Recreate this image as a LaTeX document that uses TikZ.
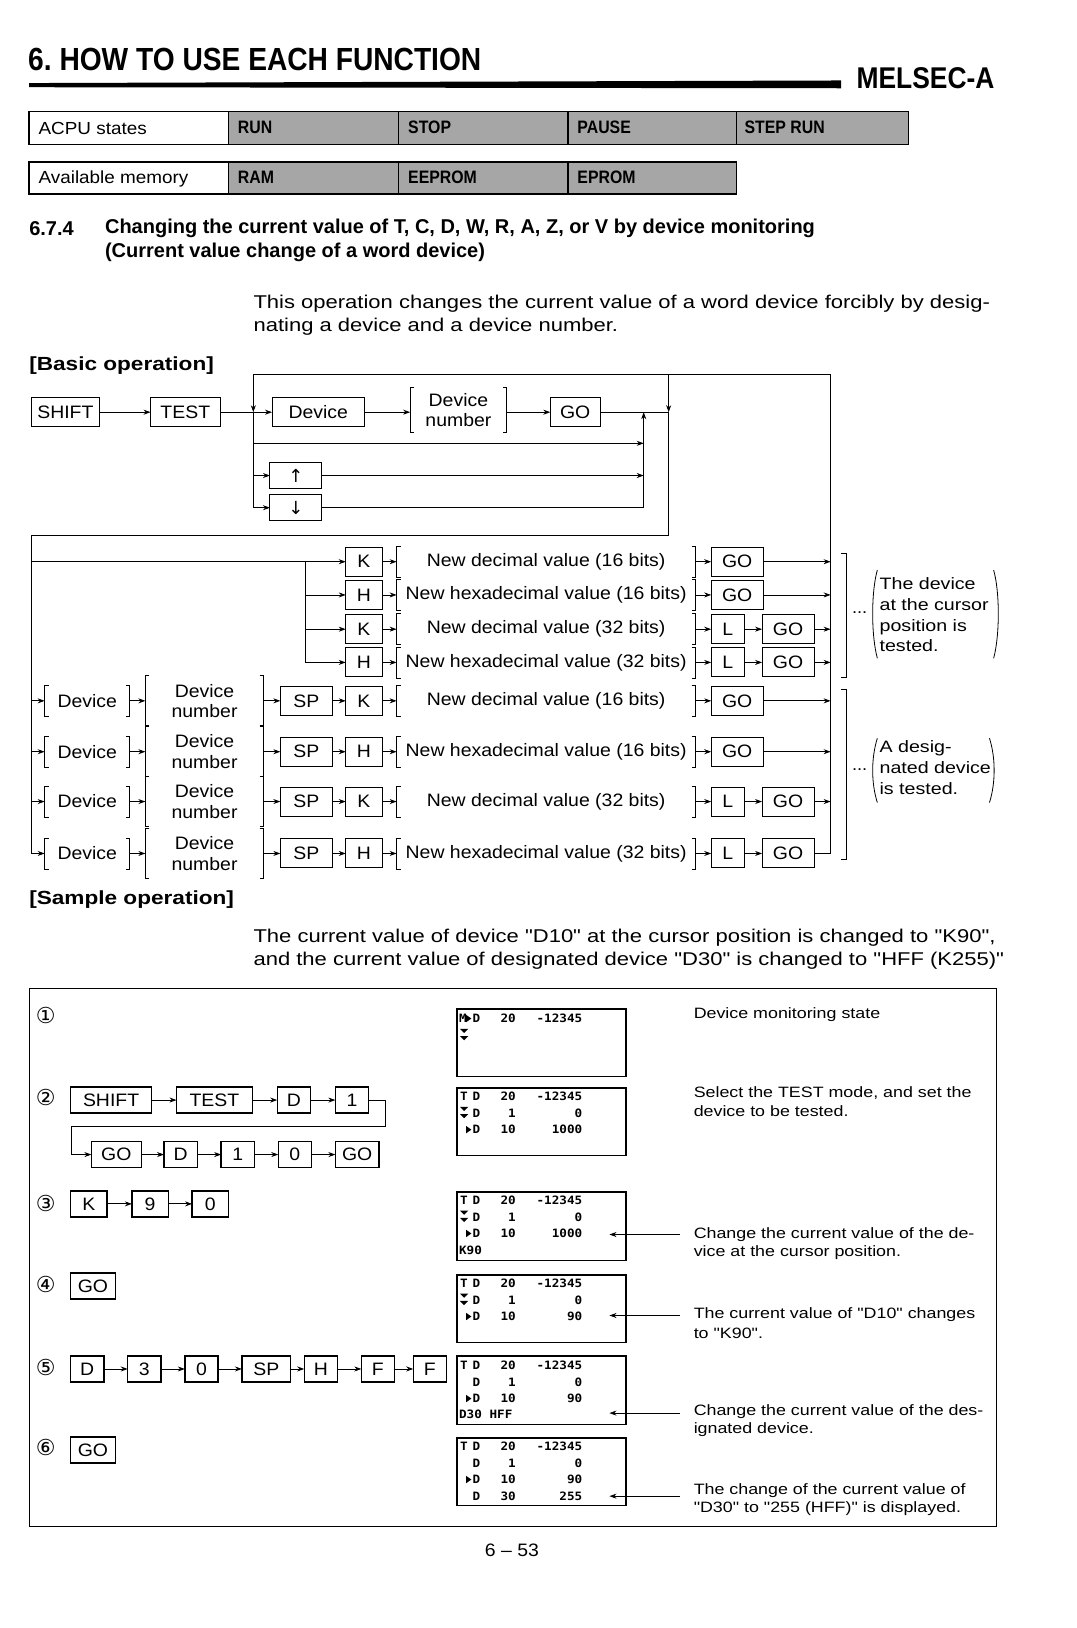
\documentclass[tikz,border=0pt]{standalone}
\usepackage{fontspec}
\setmainfont{Liberation Sans}
\newfontfamily\bodyf[FakeStretch=1.08]{Liberation Sans}
\newfontfamily\widef[FakeStretch=1.19]{Liberation Sans}
\newfontfamily\condf[FakeStretch=0.88]{Liberation Sans}
\newfontfamily\headff{Liberation Sans}
\newfontfamily\lcdf[FakeStretch=1.1]{DejaVu Sans Mono}
\newfontfamily\symf{DejaVu Sans}
\usetikzlibrary{arrows.meta}

\newcommand\kb[6][keyb]{%
  \pgfmathsetmacro\kbw{(#4-#3)*1.0386}%
  \node[minimum width=\kbw pt, minimum height=29pt, #1] (#2) at ({(#3+#4)/2},#5) {#6};}
\newcommand\bk[6][]{%
  \pgfmathsetmacro\kbw{(#4-#3)*1.0386}%
  \node[brk, minimum width=\kbw pt, minimum height=31pt, #1] (#2) at ({(#3+#4)/2},#5) {#6};
  \draw[ln] ([xshift=4pt]#2.north west) -- (#2.north west) -- (#2.south west) -- ([xshift=4pt]#2.south west);
  \draw[ln] ([xshift=-4pt]#2.north east) -- (#2.north east) -- (#2.south east) -- ([xshift=-4pt]#2.south east);}
\newcommand\lrow[5]{%
  \node[lcdt, anchor=west] (#1d) at (455,#2) {#3};
  \node[lcdt, anchor=east] (#1n) at (497,#2) {#4};
  \node[lcdt, anchor=east] (#1v) at (561,#2) {#5};}
\newcommand\ddtri[1]{%
  \fill (443,#1) -- (451,#1) -- (447,#1+4) -- cycle;
  \fill (443,#1+7) -- (451,#1+7) -- (447,#1+11) -- cycle;}
\newcommand\rtri[1]{\fill (449,#1-3.5) -- (449,#1+3.5) -- (454,#1) -- cycle;}

\begin{document}
\begin{tikzpicture}[x=1.0386pt,y=-1.0386pt,
  ln/.style={line width=0.8pt},
  arr/.style={line width=0.8pt,-{Stealth[length=7pt,width=5pt]}},
  keyb/.style={draw, line width=1pt, inner sep=0pt, outer sep=0pt, font=\bodyf\fontsize{18}{20}\selectfont},
  skey/.style={keyb, line width=1.4pt, minimum height=26pt},
  brk/.style={inner sep=0pt, outer sep=0pt, align=center, font=\bodyf\fontsize{18}{20.5}\selectfont},
  cellw/.style={draw, line width=1.2pt, inner sep=0pt, outer sep=0pt},
  cellshade/.style={cellw, fill=black!35},
  celltxt/.style={anchor=west, inner sep=0pt, font=\bodyf\fontsize{17.5}{20}\selectfont},
  cellbold/.style={celltxt, font=\condf\bfseries\fontsize{18}{20}\selectfont},
  body/.style={anchor=west, inner sep=0pt, font=\widef\fontsize{18.5}{22}\selectfont},
  lcd/.style={draw, line width=1.5pt, inner sep=0pt, outer sep=0pt},
  lcdt/.style={inner sep=0pt, font=\lcdf\bfseries\fontsize{11.5}{12}\selectfont},
  note/.style={anchor=west, inner sep=0pt, font=\widef\fontsize{15}{18}\selectfont},
  circ/.style={inner sep=0pt, font=\symf\fontsize{22}{24}\selectfont},
  sidenote/.style={anchor=north west, inner sep=0pt, align=left, font=\widef\fontsize{16.5}{20.8}\selectfont},
  headf/.style={anchor=west, inner sep=0pt, font=\headff\bfseries\fontsize{20}{24}\selectfont},
  subhead/.style={anchor=west, inner sep=0pt, font=\widef\bfseries\fontsize{19}{22}\selectfont},
]
\fill[white] (0,0) rectangle (1037,1568);
\useasboundingbox (0,0) rectangle (1037,1568);

% ---------- header ----------
\node[anchor=west, inner sep=0pt, font=\condf\bfseries\fontsize{32}{36}\selectfont] (title) at (27,57) {6.\ HOW TO USE EACH FUNCTION};
\fill (28,80) -- (810,77.5) -- (810,85) -- (28,84) -- cycle;
\node[anchor=east, inner sep=0pt, font=\condf\bfseries\fontsize{30}{34}\selectfont] (melsec) at (958,75) {MELSEC-A};

% ---------- tables ----------
\kb[cellw, minimum height=33pt]{c1}{28}{220}{123}{}
\kb[cellshade, minimum height=33pt]{c2}{220}{384}{123}{}
\kb[cellshade, minimum height=33pt]{c3}{384}{547}{123}{}
\kb[cellshade, minimum height=33pt]{c4}{547}{709}{123}{}
\kb[cellshade, minimum height=33pt]{c5}{709}{875}{123}{}
\node[celltxt] (tc1) at (37,124) {ACPU states};
\node[cellbold] (tc2) at (229,123) {RUN};
\node[cellbold] (tc3) at (393,123) {STOP};
\node[cellbold] (tc4) at (556,123) {PAUSE};
\node[cellbold] (tc5) at (717,123) {STEP RUN};
\kb[cellw, minimum height=32pt]{m1}{28}{220}{171.5}{}
\kb[cellshade, minimum height=32pt]{m2}{220}{384}{171.5}{}
\kb[cellshade, minimum height=32pt]{m3}{384}{547}{171.5}{}
\kb[cellshade, minimum height=32pt]{m4}{547}{709}{171.5}{}
\node[celltxt] (tm1) at (37,172) {Available memory};
\node[cellbold] (tm2) at (229,171) {RAM};
\node[cellbold] (tm3) at (393,171) {EEPROM};
\node[cellbold] (tm4) at (556,171) {EPROM};

% ---------- section heading ----------
\node[headf] (secn) at (28,220) {6.7.4};
\node[headf] (sec1) at (101,220) {Changing the current value of T, C, D, W, R, A, Z, or V by device monitoring};
\node[headf] (sec2) at (101,243) {(Current value change of a word device)};
\node[body] (p1) at (244,293) {This operation changes the current value of a word device forcibly by desig-};
\node[body] (p2) at (244,315) {nating a device and a device number.};
\node[subhead] (basic) at (28,352) {[Basic operation]};

% ---------- basic operation: top part ----------
\coordinate (J0) at (244,397);
\coordinate (Jt) at (244,361);
\coordinate (J1) at (244,427);
\coordinate (J2) at (244,458);
\coordinate (J4) at (244,489);
\coordinate (Rt) at (800,361);
\coordinate (Rb) at (800,822);
\coordinate (Dt) at (644,361);
\coordinate (Dm) at (644,397);
\coordinate (Db) at (644,516);
\coordinate (Lt) at (30,516);
\coordinate (Lb) at (30,822);
\coordinate (C0) at (620,397);
\coordinate (C1) at (620,427);
\coordinate (C2) at (620,458);
\coordinate (C3) at (620,489);

\kb{shift}{30}{96}{397}{SHIFT}
\kb{test}{145}{212}{397}{TEST}
\draw[arr] (shift) -- (test);
\draw[ln] (test.east) -- (J0);
\draw[ln] (Rb) -- (Rt) -- (Jt);
\draw[arr] (Jt) -- (J0);
\draw[ln] (J0) -- (J4);
\kb{dev}{262}{351}{397}{Device}
\bk[minimum height=45pt]{dnum}{395}{488}{395}{Device\\number}
\kb{go0}{530}{578}{397}{GO}
\draw[arr] (J0) -- (dev);
\draw[arr] (dev) -- (dev -| dnum.west);
\draw[arr] (dnum.east |- go0) -- (go0);
\draw[ln] (go0) -- (Dm);
\draw[arr] (Dt) -- (Dm);
\draw[ln] (Dm) -- (Db) -- (Lt) -- (Lb);
\draw[arr] (J1) -- (C1);
\kb[keyb, minimum height=26pt]{up}{260}{310}{458}{\symf ↑}
\kb[keyb, minimum height=26pt]{dn}{260}{310}{489}{\symf ↓}
\draw[arr] (J2) -- (up);
\draw[arr] (up) -- (C2);
\draw[arr] (J4) -- (dn);
\draw[ln] (dn) -- (C3);
\draw[arr] (C3) -- (C0);

% ---------- cursor-position rows ----------
\coordinate (LA) at (30,541);
\coordinate (VA) at (294,541);
\coordinate (VB) at (294,573);
\coordinate (VC) at (294,606);
\coordinate (VD) at (294,638);
\coordinate (RA) at (800,541);
\coordinate (RB) at (800,573);
\coordinate (RC) at (800,606);
\coordinate (RD) at (800,638);
\draw[ln] (VA) -- (VD);

\kb{kA}{333}{368}{541}{K}
\bk{vA}{382}{670}{541}{New decimal value (16 bits)}
\kb{gA}{685}{735}{541}{GO}
\draw[arr] (LA) -- (kA);
\draw[arr] (kA) -- (vA); \draw[arr] (vA) -- (gA); \draw[arr] (gA) -- (RA);

\kb{hB}{333}{368}{573}{H}
\bk{vB}{382}{670}{573}{New hexadecimal value (16 bits)}
\kb{gB}{685}{735}{573}{GO}
\draw[arr] (VB) -- (hB);
\draw[arr] (hB) -- (vB); \draw[arr] (vB) -- (gB); \draw[arr] (gB) -- (RB);

\kb{kC}{333}{368}{606}{K}
\bk{vC}{382}{670}{606}{New decimal value (32 bits)}
\kb{lC}{685}{717}{606}{L}
\kb{gC}{734}{784}{606}{GO}
\draw[arr] (VC) -- (kC);
\draw[arr] (kC) -- (vC); \draw[arr] (vC) -- (lC); \draw[arr] (lC) -- (gC); \draw[arr] (gC) -- (RC);

\kb{hD}{333}{368}{638}{H}
\bk{vD}{382}{670}{638}{New hexadecimal value (32 bits)}
\kb{lD}{685}{717}{638}{L}
\kb{gD}{734}{784}{638}{GO}
\draw[arr] (VD) -- (hD);
\draw[arr] (hD) -- (vD); \draw[arr] (vD) -- (lD); \draw[arr] (lD) -- (gD); \draw[arr] (gD) -- (RD);

% ---------- designated-device rows ----------
\coordinate (LE) at (30,675);
\coordinate (LF) at (30,724);
\coordinate (LG) at (30,772);
\coordinate (LH) at (30,822);
\coordinate (RE) at (800,675);
\coordinate (RF) at (800,724);
\coordinate (RG) at (800,772);

\bk{dvE}{43}{125}{675}{Device}
\bk[minimum height=50pt]{dnE}{140}{254}{675}{Device\\number}
\kb{spE}{270}{320}{675}{SP}
\kb{kE}{333}{368}{675}{K}
\bk{vE}{382}{670}{675}{New decimal value (16 bits)}
\kb{gE}{685}{735}{675}{GO}
\draw[arr] (LE) -- (dvE); \draw[arr] (dvE) -- (dnE); \draw[arr] (dnE) -- (spE);
\draw[arr] (spE) -- (kE); \draw[arr] (kE) -- (vE); \draw[arr] (vE) -- (gE); \draw[arr] (gE) -- (RE);

\bk{dvF}{43}{125}{724}{Device}
\bk[minimum height=50pt]{dnF}{140}{254}{724}{Device\\number}
\kb{spF}{270}{320}{724}{SP}
\kb{hF}{333}{368}{724}{H}
\bk{vF}{382}{670}{724}{New hexadecimal value (16 bits)}
\kb{gF}{685}{735}{724}{GO}
\draw[arr] (LF) -- (dvF); \draw[arr] (dvF) -- (dnF); \draw[arr] (dnF) -- (spF);
\draw[arr] (spF) -- (hF); \draw[arr] (hF) -- (vF); \draw[arr] (vF) -- (gF); \draw[arr] (gF) -- (RF);

\bk{dvG}{43}{125}{772}{Device}
\bk[minimum height=50pt]{dnG}{140}{254}{772}{Device\\number}
\kb{spG}{270}{320}{772}{SP}
\kb{kG}{333}{368}{772}{K}
\bk{vG}{382}{670}{772}{New decimal value (32 bits)}
\kb{lG}{685}{717}{772}{L}
\kb{gG}{734}{784}{772}{GO}
\draw[arr] (LG) -- (dvG); \draw[arr] (dvG) -- (dnG); \draw[arr] (dnG) -- (spG);
\draw[arr] (spG) -- (kG); \draw[arr] (kG) -- (vG); \draw[arr] (vG) -- (lG); \draw[arr] (lG) -- (gG); \draw[arr] (gG) -- (RG);

\bk{dvH}{43}{125}{822}{Device}
\bk[minimum height=50pt]{dnH}{140}{254}{822}{Device\\number}
\kb{spH}{270}{320}{822}{SP}
\kb{hH}{333}{368}{822}{H}
\bk{vH}{382}{670}{822}{New hexadecimal value (32 bits)}
\kb{lH}{685}{717}{822}{L}
\kb{gH}{734}{784}{822}{GO}
\draw[arr] (LH) -- (dvH); \draw[arr] (dvH) -- (dnH); \draw[arr] (dnH) -- (spH);
\draw[arr] (spH) -- (hH); \draw[arr] (hH) -- (vH); \draw[arr] (vH) -- (lH); \draw[arr] (lH) -- (gH); \draw[ln] (gH) -- (Rb);

% ---------- side notes ----------
\draw[ln] (810,533) -- (815,533) -- (815,652) -- (810,652);
\draw[ln] (810,664) -- (815,664) -- (815,828) -- (810,828);
\node[inner sep=0pt, font=\bodyf\fontsize{17}{18}\selectfont] (dots1) at (828,590) {...};
\node[inner sep=0pt, font=\bodyf\fontsize{17}{18}\selectfont] (dots2) at (828,741) {...};
\node[sidenote] (s1) at (847,556) {The device\\at the cursor\\position is\\tested.};
\draw[ln] (845,549) .. controls (839,570) and (839,612) .. (845,634);
\draw[ln] (957,549) .. controls (963,570) and (963,612) .. (957,634);
\node[sidenote] (s2) at (847,713) {A desig-\\nated device\\is tested.};
\draw[ln] (845,711) .. controls (839,730) and (839,754) .. (845,773);
\draw[ln] (953,711) .. controls (959,730) and (959,754) .. (953,773);

% ---------- sample operation ----------
\node[subhead] (sample) at (28,866) {[Sample operation]};
\node[body] (q1) at (244,903) {The current value of device "D10" at the cursor position is changed to "K90",};
\node[body] (q2) at (244,925) {and the current value of designated device "D30" is changed to "HFF (K255)"};
\kb[draw, line width=1.1pt, inner sep=0pt, outer sep=0pt, minimum height=538pt]{frame}{28}{960}{1211}{}

\node[circ] (n1) at (44,978) {①};
\node[circ] (n2) at (44,1057) {②};
\node[circ] (n3) at (44,1159) {③};
\node[circ] (n4) at (44,1237) {④};
\node[circ] (n5) at (44,1317) {⑤};
\node[circ] (n6) at (44,1394) {⑥};

\kb[skey]{a1}{68}{146}{1059.5}{SHIFT}
\kb[skey]{a2}{170}{243}{1059.5}{TEST}
\kb[skey]{a3}{267}{299}{1059.5}{D}
\kb[skey]{a4}{323}{355}{1059.5}{1}
\draw[arr] (a1) -- (a2); \draw[arr] (a2) -- (a3); \draw[arr] (a3) -- (a4);
\kb[skey]{b1}{88}{136}{1112}{GO}
\kb[skey]{b2}{158}{190}{1112}{D}
\kb[skey]{b3}{213}{245}{1112}{1}
\kb[skey]{b4}{268}{300}{1112}{0}
\kb[skey]{b5}{323}{365}{1112}{GO}
\draw[arr] (a4.east) -- (371,1059.5) -- (371,1085) -- (69,1085) -- (69,1112) -- (b1.west);
\draw[arr] (b1) -- (b2); \draw[arr] (b2) -- (b3); \draw[arr] (b3) -- (b4); \draw[arr] (b4) -- (b5);

\kb[skey]{c31}{68}{103}{1159.5}{K}
\kb[skey]{c32}{127}{162}{1159.5}{9}
\kb[skey]{c33}{185}{220}{1159.5}{0}
\draw[arr] (c31) -- (c32); \draw[arr] (c32) -- (c33);

\kb[skey]{d1}{68}{111}{1238.5}{GO}

\kb[skey]{e1}{68}{100}{1318.5}{D}
\kb[skey]{e2}{123}{155}{1318.5}{3}
\kb[skey]{e3}{178}{210}{1318.5}{0}
\kb[skey]{e4}{233}{280}{1318.5}{SP}
\kb[skey]{e5}{293}{325}{1318.5}{H}
\kb[skey]{e6}{348}{380}{1318.5}{F}
\kb[skey]{e7}{398}{430}{1318.5}{F}
\draw[arr] (e1) -- (e2); \draw[arr] (e2) -- (e3); \draw[arr] (e3) -- (e4);
\draw[arr] (e4) -- (e5); \draw[arr] (e5) -- (e6); \draw[arr] (e6) -- (e7);

\kb[skey]{f1}{68}{111}{1396.5}{GO}

% LCD screens
\kb[lcd, minimum height=67.5pt]{L1}{440}{603}{1004.5}{}
\node[lcdt, anchor=west] (L1m) at (442,981) {M};
\rtri{981}
\lrow{L1a}{981}{D}{20}{-12345}
\ddtri{991}

\kb[lcd, minimum height=67.5pt]{L2}{440}{603}{1080.5}{}
\node[lcdt, anchor=west] (L2m) at (443,1056) {T};
\lrow{L2a}{1056}{D}{20}{-12345}
\lrow{L2b}{1072}{D}{1}{0}
\ddtri{1066}
\lrow{L2c}{1088}{D}{10}{1000}
\rtri{1088}

\kb[lcd, minimum height=68.5pt]{L3}{440}{603}{1181}{}
\node[lcdt, anchor=west] (L3m) at (443,1156) {T};
\lrow{L3a}{1156}{D}{20}{-12345}
\lrow{L3b}{1172}{D}{1}{0}
\ddtri{1166}
\lrow{L3c}{1188}{D}{10}{1000}
\rtri{1188}
\node[lcdt, anchor=west] (L3k) at (442,1204) {K90};

\kb[lcd, minimum height=67.5pt]{L4}{440}{603}{1260.5}{}
\node[lcdt, anchor=west] (L4m) at (443,1236) {T};
\lrow{L4a}{1236}{D}{20}{-12345}
\lrow{L4b}{1252}{D}{1}{0}
\ddtri{1246}
\lrow{L4c}{1268}{D}{10}{90}
\rtri{1268}

\kb[lcd, minimum height=68.5pt]{L5}{440}{603}{1339}{}
\node[lcdt, anchor=west] (L5m) at (443,1315) {T};
\lrow{L5a}{1315}{D}{20}{-12345}
\lrow{L5b}{1331}{D}{1}{0}
\lrow{L5c}{1347}{D}{10}{90}
\rtri{1347}
\node[lcdt, anchor=west] (L5k) at (442,1362) {D30 HFF};

\kb[lcd, minimum height=67.5pt]{L6}{440}{603}{1417.5}{}
\node[lcdt, anchor=west] (L6m) at (443,1393) {T};
\lrow{L6a}{1393}{D}{20}{-12345}
\lrow{L6b}{1409}{D}{1}{0}
\lrow{L6c}{1425}{D}{10}{90}
\rtri{1425}
\lrow{L6d}{1441}{D}{30}{255}

% explanations
\node[note] (m1) at (668,977) {Device monitoring state};
\node[note] (m2a) at (668,1053) {Select the TEST mode, and set the};
\node[note] (m2b) at (668,1070) {device to be tested.};
\node[note] (m3a) at (668,1189) {Change the current value of the de-};
\node[note] (m3b) at (668,1206) {vice at the cursor position.};
\node[note] (m4a) at (668,1266) {The current value of "D10" changes};
\node[note] (m4b) at (668,1284) {to "K90".};
\node[note] (m5a) at (668,1360) {Change the current value of the des-};
\node[note] (m5b) at (668,1377) {ignated device.};
\node[note] (m6a) at (668,1436) {The change of the current value of};
\node[note] (m6b) at (668,1453) {"D30" to "255 (HFF)" is displayed.};

\coordinate (r3s) at (655,1189); \coordinate (r3e) at (587,1189);
\coordinate (r4s) at (655,1267); \coordinate (r4e) at (587,1267);
\coordinate (r5s) at (655,1361); \coordinate (r5e) at (587,1361);
\coordinate (r6s) at (655,1441); \coordinate (r6e) at (587,1441);
\draw[arr, line width=0.6pt] (r3s) -- (r3e);
\draw[arr, line width=0.6pt] (r4s) -- (r4e);
\draw[arr, line width=0.6pt] (r5s) -- (r5e);
\draw[arr, line width=0.6pt] (r6s) -- (r6e);

\node[inner sep=0pt, font=\bodyf\fontsize{18}{20}\selectfont] (pg) at (493,1493) {6 – 53};
\end{tikzpicture}
\end{document}
